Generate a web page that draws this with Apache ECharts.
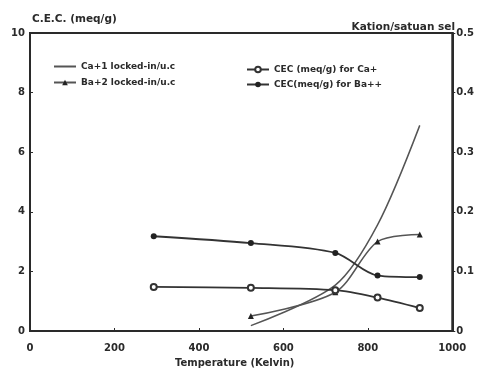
<!DOCTYPE html>
<html>
<head>
<meta charset="utf-8">
<script src="https://cdn.jsdelivr.net/npm/echarts@6/dist/echarts.min.js"></script>
<style>
html,body{margin:0;padding:0;background:#fff;}
#c{width:477px;height:372px;}
</style>
</head>
<body>
<div id="c"></div>
<script>
// Data
const temps = [293, 523, 723, 823, 923];              // Kelvin
const cecCa = [1.48, 1.45, 1.37, 1.12, 0.77];         // meq/g (left axis)
const cecBa = [3.18, 2.95, 2.62, 1.86, 1.81];         // meq/g (left axis)
const lockTemps = [523, 723, 823, 923];               // Kelvin
const ca1Locked = [0.009, 0.077, 0.178, 0.345];       // cations / unit cell (right axis)
const ba2Locked = [0.025, 0.065, 0.150, 0.162];       // cations / unit cell (right axis)
const xTicks = [0, 200, 400, 600, 800, 1000];
const leftTicks = [0, 2, 4, 6, 8, 10];
const rightTicks = [0, 0.1, 0.2, 0.3, 0.4, 0.5];
const names = ['Ca+1 locked-in/u.c', 'Ba+2 locked-in/u.c', 'CEC (meq/g) for Ca+', 'CEC(meq/g) for Ba++'];

const pair = (xs, ys) => xs.map((x, i) => [x, ys[i]]);
const ink = '#2a2a2a';
const font = 'DejaVu Sans';
const lbl = {color: ink, fontFamily: font, fontWeight: 'bold', fontSize: 10};
const legText = {color: ink, fontFamily: font, fontWeight: 'bold', fontSize: 9};

const chart = echarts.init(document.getElementById('c'), null, {renderer: 'canvas'});
chart.setOption({
  backgroundColor: '#fff',
  animation: false,
  grid: {left: 30, right: 22, top: 33, bottom: 41, show: true, borderColor: ink, borderWidth: 2, backgroundColor: 'transparent'},
  legend: [
    {data: [{name: names[0], itemStyle: {opacity: 0}}, names[1]], orient: 'vertical', left: 48, top: 57,
     itemWidth: 22, itemHeight: 7, itemGap: 7, textStyle: legText},
    {data: [names[2], names[3]], orient: 'vertical', left: 241, top: 60,
     itemWidth: 22, itemHeight: 7, itemGap: 6, textStyle: legText}
  ],
  xAxis: {
    type: 'value', min: xTicks[0], max: xTicks[xTicks.length - 1], interval: 200,
    axisLine: {lineStyle: {color: ink, width: 2}},
    axisTick: {inside: true, length: 3, lineStyle: {color: ink}},
    axisLabel: Object.assign({margin: 12, formatter: v => String(v)}, lbl),
    splitLine: {show: false}
  },
  yAxis: [
    {
      type: 'value', min: leftTicks[0], max: leftTicks[leftTicks.length - 1], interval: 2, position: 'left',
      axisLine: {show: true, lineStyle: {color: ink, width: 2}},
      axisTick: {show: true, inside: true, length: 3, lineStyle: {color: ink}},
      axisLabel: Object.assign({margin: 5}, lbl),
      splitLine: {show: false}
    },
    {
      type: 'value', min: rightTicks[0], max: rightTicks[rightTicks.length - 1], interval: 0.1, position: 'right',
      axisLine: {show: true, lineStyle: {color: ink, width: 2}},
      axisTick: {show: true, length: 3, lineStyle: {color: ink}},
      axisLabel: Object.assign({margin: 4, formatter: v => v === 0 ? '0' : v.toFixed(1)}, lbl),
      splitLine: {show: false}
    }
  ],
  graphic: [
    {type: 'text', left: 32, top: 14, style: {text: 'C.E.C. (meq/g)', fill: ink, font: 'bold 10.5px "DejaVu Sans"'}},
    {type: 'text', right: 22, top: 22, style: {text: 'Kation/satuan sel', fill: ink, font: 'bold 10.5px "DejaVu Sans"'}},
    {type: 'text', left: 175, top: 358, style: {text: 'Temperature (Kelvin)', fill: ink, font: 'bold 10px "DejaVu Sans"'}}
  ],
  series: [
    {name: names[0], type: 'line', yAxisIndex: 1, smooth: 0.3, symbol: 'none',
     data: pair(lockTemps, ca1Locked), lineStyle: {color: '#555', width: 1.5}, itemStyle: {color: '#555'}},
    {name: names[1], type: 'line', yAxisIndex: 1, smooth: 0.3, symbol: 'triangle', symbolSize: 6,
     data: pair(lockTemps, ba2Locked), lineStyle: {color: '#555', width: 1.5}, itemStyle: {color: '#222'}},
    {name: names[2], type: 'line', yAxisIndex: 0, smooth: 0.3, symbol: 'emptyCircle', symbolSize: 6,
     data: pair(temps, cecCa), lineStyle: {color: '#333', width: 1.8}, itemStyle: {color: '#333', borderWidth: 1.2}},
    {name: names[3], type: 'line', yAxisIndex: 0, smooth: 0.3, symbol: 'circle', symbolSize: 6,
     data: pair(temps, cecBa), lineStyle: {color: '#333', width: 1.8}, itemStyle: {color: '#222'}}
  ]
});
</script>
</body>
</html>
